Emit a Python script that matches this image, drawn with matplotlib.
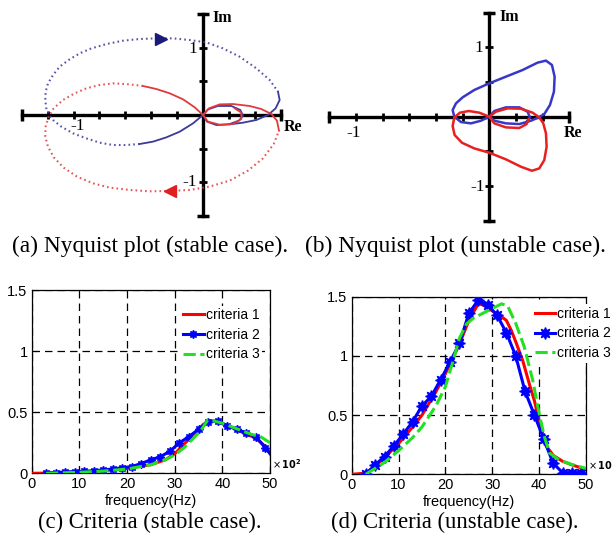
import numpy as np
import matplotlib.pyplot as plt

# ---------------------------------------------------------------
# (a) Nyquist plot, stable case  (Re, Im)
# ---------------------------------------------------------------
a_blue_re = [0, -0.077, -0.18, -0.283, -0.386, -0.489, -0.592, -0.695, -0.798, -0.901,
             -1.004, -1.094, -1.158, -1.189, -1.21, -1.218, -1.215, -1.197, -1.158, -1.107,
             -1.03, -0.952, -0.862, -0.746, -0.618, -0.489, -0.36, -0.232, -0.103, 0.026,
             0.154, 0.283, 0.412, 0.515, 0.579, 0.592, 0.561, 0.502, 0.412, 0.309,
             0.206, 0.103, 0.031, 0, 0.039, 0.116, 0.219, 0.288, 0.309, 0.278, 0.206]
a_blue_im = [0, -0.124, -0.248, -0.332, -0.396, -0.431, -0.446, -0.446, -0.411, -0.347,
             -0.272, -0.173, -0.074, 0, 0.099, 0.223, 0.347, 0.47, 0.594, 0.718,
             0.827, 0.916, 0.99, 1.054, 1.104, 1.129, 1.139, 1.139, 1.114, 1.079,
             0.99, 0.866, 0.693, 0.52, 0.347, 0.223, 0.099, 0, -0.074, -0.114,
             -0.139, -0.149, -0.099, 0, 0.084, 0.134, 0.134, 0.074, -0.01, -0.084, -0.134]
a_blue_dotted = (5, 34)

a_red_re = [0, -0.064, -0.154, -0.257, -0.36, -0.463, -0.566, -0.695, -0.798, -0.901,
            -0.991, -1.081, -1.153, -1.192, -1.215, -1.218, -1.197, -1.153, -1.076, -0.973,
            -0.849, -0.721, -0.566, -0.412, -0.257, -0.103, 0.051, 0.206, 0.347, 0.463,
            0.546, 0.587, 0.571, 0.528, 0.45, 0.36, 0.232, 0.129, 0.046, 0,
            0.039, 0.129, 0.232, 0.296, 0.296, 0.245]
a_red_im = [0, 0.114, 0.233, 0.322, 0.386, 0.431, 0.455, 0.47, 0.446, 0.396,
            0.322, 0.223, 0.099, -0.025, -0.173, -0.322, -0.47, -0.629, -0.782, -0.916,
            -1.015, -1.079, -1.114, -1.134, -1.129, -1.114, -1.064, -0.975, -0.827, -0.644,
            -0.431, -0.233, -0.084, 0.015, 0.089, 0.134, 0.163, 0.158, 0.099, 0,
            -0.099, -0.144, -0.134, -0.059, 0.035, 0.099]
a_red_dotted = (5, 31)

a_blue_arrow = (-0.322, 1.134)
a_red_arrow = (-0.257, -1.124)

# ---------------------------------------------------------------
# (b) Nyquist plot, unstable case
# ---------------------------------------------------------------
b_blue_re = [0, -0.0625, -0.1375, -0.2125, -0.2625, -0.275, -0.25, -0.2, -0.1125, -0.0125,
             0.125, 0.25, 0.3625, 0.425, 0.47, 0.49, 0.485, 0.455, 0.4125, 0.37,
             0.3125, 0.225, 0.125, 0.0375, 0, 0.0375, 0.125, 0.225, 0.2875, 0.305, 0.275]
b_blue_im = [0, -0.058, -0.096, -0.077, 0, 0.096, 0.192, 0.279, 0.385, 0.471,
             0.577, 0.673, 0.779, 0.808, 0.745, 0.577, 0.361, 0.168, 0.038, -0.01,
             -0.058, -0.106, -0.096, -0.058, 0, 0.082, 0.135, 0.135, 0.072, -0.01, -0.087]

b_red_re = [0, -0.075, -0.155, -0.22, -0.2625, -0.275, -0.26, -0.205, -0.1125, 0,
            0.125, 0.2375, 0.32, 0.375, 0.4125, 0.43, 0.425, 0.405, 0.375, 0.325,
            0.2375, 0.1375, 0.05, 0, 0.0375, 0.125, 0.225, 0.28, 0.295]
b_red_im = [0, 0.058, 0.082, 0.058, -0.01, -0.135, -0.264, -0.375, -0.457, -0.519,
            -0.615, -0.721, -0.779, -0.745, -0.625, -0.433, -0.24, -0.096, -0.01, 0.058,
            0.115, 0.12, 0.072, 0, -0.096, -0.154, -0.163, -0.106, -0.038]

# ---------------------------------------------------------------
# (c) criteria, stable case   (frequency x 100 Hz)
# ---------------------------------------------------------------
c_red_f = [0, 5, 10, 15, 20, 25, 28, 30, 32, 34, 36, 37.5, 39, 41, 43, 45, 47, 49, 50]
c_red_v = [0, 0.003, 0.01, 0.02, 0.04, 0.07, 0.11, 0.16, 0.24, 0.32, 0.40, 0.43, 0.42,
           0.39, 0.36, 0.32, 0.29, 0.22, 0.17]
c_blue_f = [3, 5, 7, 9, 11, 13, 15, 17, 19, 21, 23, 25, 27, 29, 31, 33, 35, 37, 39, 41,
            43, 45, 47, 49, 50]
c_blue_v = [0.005, 0.006, 0.011, 0.014, 0.016, 0.022, 0.027, 0.035, 0.046, 0.055, 0.08,
            0.11, 0.136, 0.18, 0.25, 0.30, 0.36, 0.42, 0.43, 0.39, 0.36, 0.33, 0.30,
            0.21, 0.16]
c_green_f = [3, 10, 15, 20, 25, 28, 30, 32, 34, 35.5, 37, 38, 40, 42, 44, 46, 48, 50]
c_green_v = [0, 0.008, 0.018, 0.035, 0.07, 0.11, 0.15, 0.21, 0.29, 0.35, 0.44, 0.43,
             0.41, 0.38, 0.35, 0.32, 0.30, 0.25]

# ---------------------------------------------------------------
# (d) criteria, unstable case
# ---------------------------------------------------------------
d_red_f = [0, 3, 5, 7, 10, 13, 15, 18, 20, 23, 25, 27, 28, 30, 32, 33, 34, 35, 36.5,
           38, 39, 40, 41.5, 43, 45, 47, 50]
d_red_v = [0, 0.01, 0.07, 0.14, 0.26, 0.40, 0.50, 0.70, 0.85, 1.10, 1.30, 1.44, 1.43,
           1.38, 1.33, 1.30, 1.22, 1.12, 0.96, 0.75, 0.62, 0.45, 0.24, 0.16, 0.11,
           0.08, 0.04]
d_blue_f = [3, 5, 7, 9, 11, 13, 15, 17, 19, 21, 23, 25, 27, 29, 31, 33, 35, 37, 39, 41,
            43, 45, 47, 49]
d_blue_v = [0.0, 0.08, 0.15, 0.24, 0.34, 0.445, 0.577, 0.66, 0.80, 0.95, 1.106, 1.36,
            1.47, 1.43, 1.345, 1.196, 1.0, 0.70, 0.50, 0.295, 0.093, 0.014, 0.014, 0.014]
d_green_f = [3, 5, 7, 10, 13, 15, 18, 20, 21.5, 23, 24.5, 26, 28, 30, 32, 33.3, 35,
             36.8, 38.6, 40, 41.1, 42.2, 44.3, 47.2, 50]
d_green_v = [0, 0.05, 0.10, 0.20, 0.31, 0.40, 0.58, 0.74, 0.94, 1.15, 1.27, 1.32, 1.36,
             1.40, 1.44, 1.42, 1.275, 1.08, 0.80, 0.515, 0.32, 0.18, 0.12, 0.08, 0.05]

legend_labels = ['criteria 1', 'criteria 2', 'criteria 3']
freq_ticks = [0, 10, 20, 30, 40, 50]
crit_ticks = [0, 0.5, 1, 1.5]
crit_tick_labels = ['0', '0.5', '1', '1.5']

captions = ['(a) Nyquist plot (stable case).', '(b) Nyquist plot (unstable case).',
            '(c) Criteria (stable case).', '(d) Criteria (unstable case).']

W, H = 612, 541
fig = plt.figure(figsize=(W / 100, H / 100), dpi=100)

SERIF = 'Liberation Serif'
SANS = 'Liberation Sans'


def px_axes(x0, y0, x1, y1):
    """axes placed by pixel box (y measured from the top)"""
    return fig.add_axes([x0 / W, (H - y1) / H, (x1 - x0) / W, (y1 - y0) / H])


def nyquist_frame(ax, xt, yt, lab):
    # axes cross with small ticks, drawn like the original hand-made frame
    ax.plot([xt[0], xt[-1]], [0, 0], color='k', lw=2.4, zorder=1)
    ax.plot([0, 0], [yt[0], yt[-1]], color='k', lw=2.4, zorder=1)
    ax.plot(xt[1:-1], np.zeros(len(xt) - 2), ls='none', marker='|', ms=6, mew=2, color='k')
    ax.plot(np.zeros(len(yt) - 2), yt[1:-1], ls='none', marker='_', ms=6, mew=2, color='k')
    ax.plot([xt[0], xt[-1]], [0, 0], ls='none', marker='|', ms=9, mew=2.5, color='k')
    ax.plot([0, 0], [yt[0], yt[-1]], ls='none', marker='_', ms=9, mew=2.5, color='k')
    for (x, y, s, w) in lab:
        ax.text(x, y, s, fontsize=12.5 if w == 'normal' else 11.5, fontweight=w,
                family=SERIF, ha='center', va='center')
    ax.axis('off')


# ---------------- (a) ----------------
ax = px_axes(0, 0, 306, 225)
ax.set_xlim((0 - 203) / 129.5, (306 - 203) / 129.5)
ax.set_ylim((115 - 225) / 67.3, 115 / 67.3)
nyquist_frame(ax, np.round(np.arange(-1.4, 0.61, 0.2), 2), np.arange(-1.5, 1.51, 0.5),
              [(-0.077, 0.98, '1', 'normal'), (-0.1, -0.995, '-1', 'normal'),
               (-0.965, -0.16, '-1', 'normal'), (0.695, -0.178, 'Re', 'bold'),
               (0.147, 1.44, 'Im', 'bold')])
blue_a = '#3a3a9a'
red_a = '#e03a3a'
i0, i1 = a_blue_dotted
ax.plot(a_blue_re[:i0 + 1], a_blue_im[:i0 + 1], color=blue_a, lw=1.3)
ax.plot(a_blue_re[i0:i1 + 1], a_blue_im[i0:i1 + 1], color=blue_a, lw=1.5, ls=(0, (0.8, 1.5)),
        alpha=0.85)
ax.plot(a_blue_re[i1:], a_blue_im[i1:], color=blue_a, lw=1.3)
i0, i1 = a_red_dotted
ax.plot(a_red_re[:i0 + 1], a_red_im[:i0 + 1], color=red_a, lw=1.3)
ax.plot(a_red_re[i0:i1 + 1], a_red_im[i0:i1 + 1], color=red_a, lw=1.5, ls=(0, (0.8, 1.5)),
        alpha=0.85)
ax.plot(a_red_re[i1:], a_red_im[i1:], color=red_a, lw=1.3)
ax.plot(*a_blue_arrow, marker='>', ms=9, color='#1a1a7a', ls='none')
ax.plot(*a_red_arrow, marker='<', ms=9, color='#e02020', ls='none')

# ---------------- (b) ----------------
ax = px_axes(306, 0, 612, 225)
ax.set_xlim((306 - 489.3) / 133.3, (612 - 489.3) / 133.3)
ax.set_ylim((116.7 - 225) / 69.4, 116.7 / 69.4)
nyquist_frame(ax, np.round(np.arange(-1.2, 0.61, 0.2), 2), np.arange(-1.5, 1.51, 0.5),
              [(-0.077, 0.99, '1', 'normal'), (-0.085, -1.013, '-1', 'normal'),
               (-1.016, -0.235, '-1', 'normal'), (0.628, -0.235, 'Re', 'bold'),
               (0.148, 1.437, 'Im', 'bold')])
ax.plot(b_blue_re, b_blue_im, color='#3838c8', lw=1.8)
ax.plot(b_red_re, b_red_im, color='#e82020', lw=1.8)


# ---------------- (c), (d) ----------------
def criteria_axes(ax, red, blue, green, ms, leg_anchor):
    ax.plot(*red, color='#ff0000', lw=2.2, label=legend_labels[0], zorder=3)
    ax.plot(*blue, color='#0000ff', lw=2.2, marker=(8, 1, 0), ms=ms,
            markevery=list(range(24)), label=legend_labels[1], zorder=4)
    ax.plot(*green, color='#22e022', lw=2.2, dashes=(4, 1.5), label=legend_labels[2], zorder=5)
    ax.set_xlim(0, 50)
    ax.set_ylim(0, 1.5)
    ax.set_xticks(freq_ticks)
    ax.set_yticks(crit_ticks)
    ax.set_yticklabels(crit_tick_labels)
    ax.tick_params(direction='in', length=4, labelsize=10.5)
    ax.tick_params(axis='x', pad=2.5)
    ax.tick_params(axis='y', pad=3)
    for t in ax.get_xticklabels() + ax.get_yticklabels():
        t.set_family(SANS)
    ax.grid(True, color='k', ls=(0, (6, 4)), lw=0.9)
    ax.set_axisbelow(True)
    for s in ax.spines.values():
        s.set_linewidth(0.9)
    ax.set_xlabel('frequency(Hz)', family=SANS, fontsize=10.5, labelpad=2)
    ax.text(1.01, 0.012, r'$\times\,\mathbf{10^{2}}$', transform=ax.transAxes,
            fontsize=7, va='bottom', ha='left')
    leg = ax.legend(loc='upper left', bbox_to_anchor=leg_anchor, frameon=True,
                    fancybox=False, edgecolor='none', facecolor='white', framealpha=1,
                    borderpad=0.2, handlelength=1.45, handletextpad=0.15,
                    labelspacing=0.4, borderaxespad=0, prop={'family': SANS, 'size': 10})
    leg.set_zorder(10)


ax = px_axes(31.7, 290, 270, 473.3)
criteria_axes(ax, (c_red_f, c_red_v), (c_blue_f, c_blue_v), (c_green_f, c_green_v), 6,
              (0.625, 0.915))
ax = px_axes(351.7, 296.7, 586, 474.3)
criteria_axes(ax, (d_red_f, d_red_v), (d_blue_f, d_blue_v), (d_green_f, d_green_v), 8.5,
              (0.77, 0.958))

# captions
for (cx, cy, fs), s in zip([(150, 246, 16.8), (455, 246, 16.8), (150, 522, 16.3),
                            (455, 522, 16.3)], captions):
    fig.text(cx / W, 1 - cy / H, s, family=SERIF, fontsize=fs, ha='center', va='center')

fig.savefig('out.png', dpi=100)
